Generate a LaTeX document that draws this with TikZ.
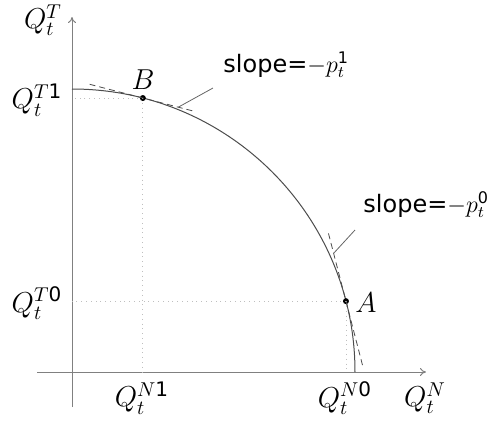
\documentclass[tikz,border=0pt]{standalone}
\usepackage{amsmath}
\usepackage{fontspec}
\setmainfont{DejaVu Sans}
\usetikzlibrary{arrows.meta,calc}
\begin{document}
\begin{tikzpicture}[x=0.5pt,y=0.5pt,font=\fontsize{12}{14}\selectfont,
  axis/.style={draw=gray, line width=0.5pt, -{To[length=3pt,width=4pt]}},
  frontier/.style={draw=black!70, line width=0.5pt},
  tangent/.style={draw=black!70, dashed, line width=0.4pt, dash pattern=on 3pt off 2pt},
  guide/.style={draw=black!25, dotted, line width=0.4pt},
  pointer/.style={draw=black!60, line width=0.4pt},
  dot/.style={circle, fill=black, inner sep=0pt, minimum size=3pt},
  lbl/.style={inner sep=0pt},
  qlbl/.style={inner sep=0pt, font=\fontsize{14.4}{17}\selectfont}]
\useasboundingbox (-72,-48) rectangle (427,372);
% axes
\coordinate (O) at (0,0);
\coordinate (ytop) at (0,355);
\coordinate (ybot) at (0,-35);
\coordinate (xleft) at (-35,0);
\coordinate (xright) at (354,0);
\draw[axis] (ybot) -- (ytop);
\draw[axis] (xleft) -- (xright);
% frontier
\draw[frontier] (0,283) arc[start angle=90,end angle=0,radius=283];
% points
\node[dot] (B) at (75.5:283) {};
\node[dot] (A) at (14.5:283) {};
% guides
\coordinate (Bx) at (B |- O);
\coordinate (By) at (O |- B);
\coordinate (Ax) at (A |- O);
\coordinate (Ay) at (O |- A);
\draw[guide] (B.center) -- (Bx);
\draw[guide] (B.center) -- (By);
\draw[guide] (A.center) -- (Ax);
\draw[guide] (A.center) -- (Ay);
% tangents
\coordinate (tB1) at ($(B.center)+55*(-0.968,0.250)$);
\coordinate (tB2) at ($(B.center)+-54*(-0.968,0.250)$);
\coordinate (tA1) at ($(A.center)+70*(-0.250,0.968)$);
\coordinate (tA2) at ($(A.center)+-68*(-0.250,0.968)$);
\draw[tangent] (tB1) -- (tB2);
\draw[tangent] (tA1) -- (tA2);
% labels
\node[lbl, anchor=base west] (sB) at (151,300) {slope=$-p_t^{\text{1}}$};
\node[lbl, anchor=base west] (sA) at (291,160) {slope=$-p_t^{\text{0}}$};
\coordinate (pB) at ($(B.center)+-36.6*(-0.968,0.250)$);
\coordinate (pA) at ($(A.center)+49.4*(-0.250,0.968)$);
\coordinate (qB) at (141,284);
\coordinate (qA) at (283,142);
\draw[pointer] (qB) -- (pB);
\draw[pointer] (qA) -- (pA);
\node[qlbl] (lB) at (71,292) {$B$};
\node[qlbl] (lA) at (294,69) {$A$};
\node[qlbl] (QT) at (-29,352) {$Q_t^T$};
\node[qlbl] (QT1) at (-35,272) {$Q_t^{T\text{1}}$};
\node[qlbl] (QT0) at (-35,69) {$Q_t^{T\text{0}}$};
\node[qlbl] (QN1) at (70,-26) {$Q_t^{N\text{1}}$};
\node[qlbl] (QN0) at (273,-26) {$Q_t^{N\text{0}}$};
\node[qlbl] (QN) at (353,-26) {$Q_t^N$};
\end{tikzpicture}
\end{document}
